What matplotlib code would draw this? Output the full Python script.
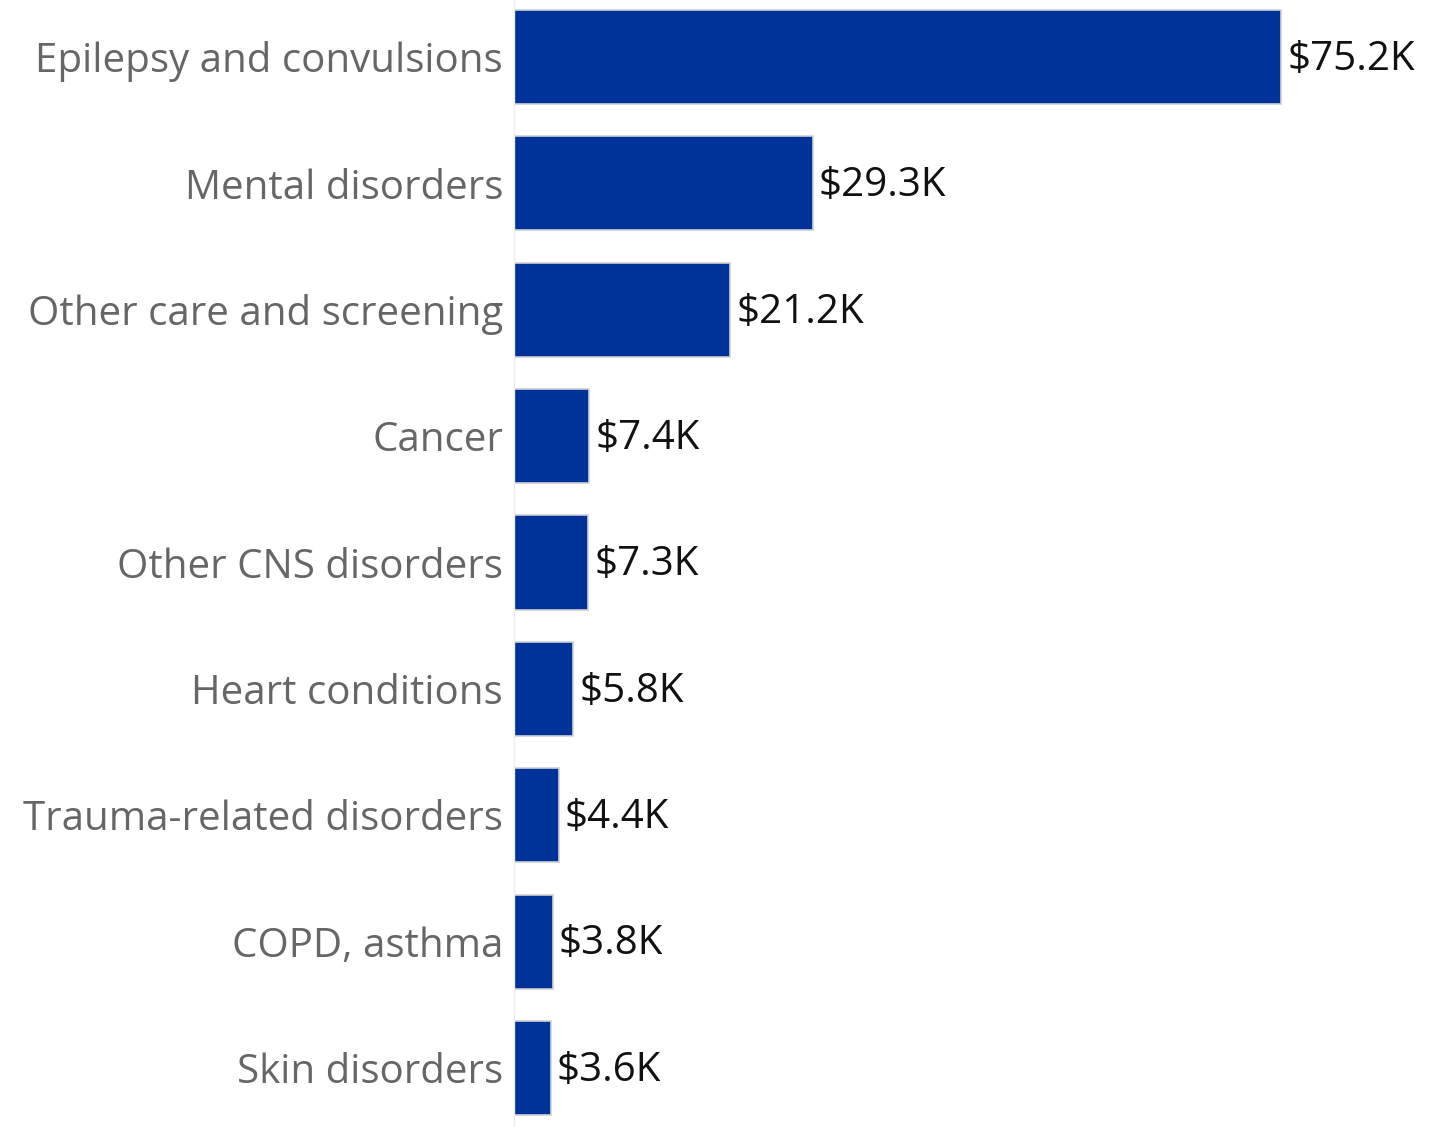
import matplotlib
matplotlib.use("Agg")
import matplotlib.pyplot as plt

categories = ["Epilepsy and convulsions", "Mental disorders", "Other care and screening",
              "Cancer", "Other CNS disorders", "Heart conditions",
              "Trauma-related disorders", "COPD, asthma", "Skin disorders"]
values = [75.2, 29.3, 21.2, 7.4, 7.3, 5.8, 4.4, 3.8, 3.6]
labels = ["$75.2K", "$29.3K", "$21.2K", "$7.4K", "$7.3K", "$5.8K", "$4.4K", "$3.8K", "$3.6K"]

plt.rcParams['font.family'] = ['Open Sans', 'DejaVu Sans']

fig = plt.figure(figsize=(14.37, 11.27), dpi=100)
ax = fig.add_axes([514/1437, 0, 1 - 514/1437, 1])
y = list(range(len(categories)))
ax.barh(y, values, height=0.744, color="#003399", edgecolor="#d0d0d0", linewidth=1.2)
for yi, v, lab in zip(y, values, labels):
    ax.text(v + 0.6, yi + 0.02, lab, va="center", ha="left", fontsize=29, color="#111111")
ax.set_xlim(0, 90.5)
ax.set_ylim(8.467, -0.451)
ax.set_yticks(y)
ax.set_yticklabels(categories, fontsize=29, color="#666666")
for t in ax.get_yticklabels():
    t.set_y(t.get_position()[1])
ax.tick_params(axis="y", length=0, pad=8)
ax.set_xticks([])
for s in ["top", "right", "bottom"]:
    ax.spines[s].set_visible(False)
ax.spines["left"].set_color("#eeeeee")
ax.spines["left"].set_linewidth(1)
fig.savefig("out.png", dpi=100)
